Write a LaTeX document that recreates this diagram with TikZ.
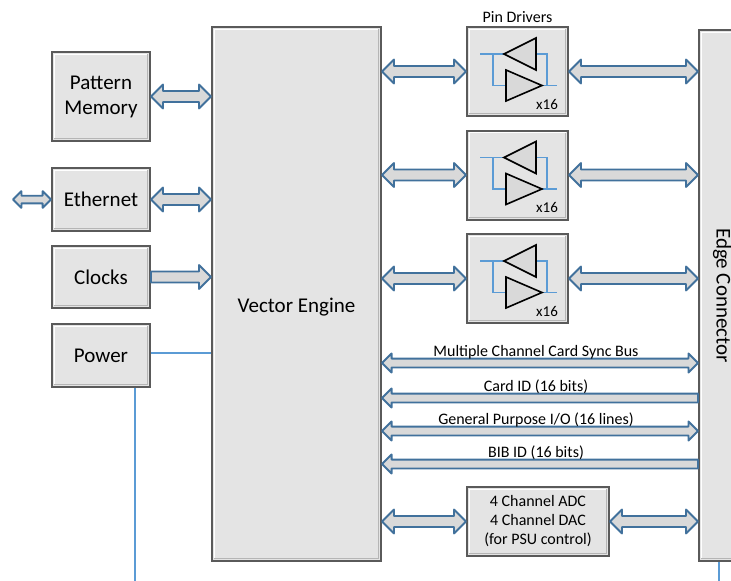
\documentclass[tikz,border=0pt]{standalone}
\usepackage{fontspec}
\setmainfont{Carlito}
\usetikzlibrary{calc}

\definecolor{boxgray}{HTML}{E4E4E4}
\definecolor{boxedge}{HTML}{5A5A5A}
\definecolor{busblue}{HTML}{41719C}
\definecolor{busgray}{HTML}{D9D9D9}
\definecolor{wireblue}{HTML}{5B9BD5}

% fat bus arrows, optional #1 = size factor
\newcommand{\fatboth}[3][1]{%
  \path[fatbus] let \p1=(#2), \p2=(#3) in
    (\x1,\y1) -- (\x1+12pt*#1,\y1+12pt*#1) -- (\x1+12pt*#1,\y1+5.5pt*#1)
    -- (\x2-12pt*#1,\y1+5.5pt*#1) -- (\x2-12pt*#1,\y1+12pt*#1) -- (\x2,\y1)
    -- (\x2-12pt*#1,\y1-12pt*#1) -- (\x2-12pt*#1,\y1-5.5pt*#1)
    -- (\x1+12pt*#1,\y1-5.5pt*#1) -- (\x1+12pt*#1,\y1-12pt*#1) -- cycle;}
\newcommand{\fatright}[3][1]{%
  \path[fatbus] let \p1=(#2), \p2=(#3) in
    (\x1,\y1+5.5pt*#1) -- (\x2-12pt*#1,\y1+5.5pt*#1) -- (\x2-12pt*#1,\y1+12pt*#1)
    -- (\x2,\y1) -- (\x2-12pt*#1,\y1-12pt*#1) -- (\x2-12pt*#1,\y1-5.5pt*#1)
    -- (\x1,\y1-5.5pt*#1) -- cycle;}
\newcommand{\fatleft}[3][1]{%
  \path[fatbus] let \p1=(#2), \p2=(#3) in
    (\x1,\y1) -- (\x1+12pt*#1,\y1+12pt*#1) -- (\x1+12pt*#1,\y1+5.5pt*#1)
    -- (\x2,\y1+5.5pt*#1) -- (\x2,\y1-5.5pt*#1)
    -- (\x1+12pt*#1,\y1-5.5pt*#1) -- (\x1+12pt*#1,\y1-12pt*#1) -- cycle;}

\begin{document}
\begin{tikzpicture}[x=1pt,y=-1pt,
  box/.style={draw=boxedge,fill=boxgray,line width=2pt,text=black,align=center,
    font=\fontsize{21}{25}\selectfont,
    path picture={
      \draw[white,line width=1.2pt]
        ([shift={(2.2pt,2.2pt)}]path picture bounding box.south west)
        |- ([shift={(-2.2pt,-2.2pt)}]path picture bounding box.north east);
      \draw[boxedge!45,line width=1.2pt]
        ([shift={(2.2pt,2.2pt)}]path picture bounding box.south west)
        -| ([shift={(-2.2pt,-2.2pt)}]path picture bounding box.north east);}},
  fatbus/.style={draw=busblue,fill=busgray,line width=1.8pt,line join=round},
  wire/.style={draw=wireblue,line width=1.8pt},
  thinwire/.style={draw=wireblue,line width=1.2pt},
  buslabel/.style={font=\fontsize{16}{19}\selectfont,text=black,inner sep=0pt},
  tri/.style={draw=black,fill=busgray,line width=1.6pt,line join=miter}]
\clip (0,0) rectangle (731,581);

% left column
\node[box,minimum width=98,minimum height=89] (pm) at (101,96.5) {Pattern\\Memory};
\node[box,minimum width=98,minimum height=63] (eth) at (101,199.5) {Ethernet};
\node[box,minimum width=98,minimum height=62] (clk) at (101,277) {Clocks};
\node[box,minimum width=98,minimum height=63] (pwr) at (101,355.5) {Power};

% big blocks
\node[box,minimum width=169,minimum height=534] (ve) at (296.5,294) {\raisebox{-18pt}[0pt][0pt]{Vector Engine}};
\node[box,minimum width=46,minimum height=531] (ec) at (722,295.5) {\rotatebox{-90}{Edge Connector}};

% pin drivers
\foreach \k/\y in {1/71.5,2/175,3/278.5}
  \node[box,minimum width=101,minimum height=89] (pd\k) at (517.5,\y) {};
\node[buslabel,anchor=south] (pdname) at ([yshift=3pt]pd1.north) {Pin Drivers};
\foreach \pd in {pd1,pd2,pd3}{
  \begin{scope}[shift={(\pd.center)}]
    \draw[thinwire] (-37.5,-17.5) -- (-13.5,-17.5);
    \draw[thinwire] (-24.5,-17.5) -- (-24.5,14) -- (-11.5,14);
    \draw[thinwire] (18.5,-17.5) -- (29.5,-17.5) -- (29.5,14);
    \draw[thinwire] (24.5,14) -- (39.5,14);
    \draw[tri] (-13.5,-17.5) -- (18.5,-33.5) -- (18.5,-1.5) -- cycle;
    \draw[tri] (-11.5,-1.5) -- (24.5,14) -- (-11.5,29.5) -- cycle;
    \node[buslabel,font=\fontsize{15}{18}\selectfont] at (29.5,32.5) {x16};
  \end{scope}
}

% ADC / DAC
\node[box,minimum width=142,minimum height=69,font=\fontsize{16}{19}\selectfont] (adc) at (538,521.5)
  {4 Channel ADC\\4 Channel DAC\\(for PSU control)};

% free ends
\coordinate (lan) at (13,199.5);
\coordinate (pwrend) at (135,581);
\coordinate (ecend) at (719,581);
\coordinate (bus1) at (0,363);
\coordinate (bus2) at (0,398);
\coordinate (bus3) at (0,431);
\coordinate (bus4) at (0,464);

% connectors on the left
\fatboth{pm.east}{pm.east -| ve.west}
\fatboth[0.7]{lan}{eth.west}
\fatboth{eth.east}{eth.east -| ve.west}
\fatright{clk.east}{clk.east -| ve.west}
\draw[wire] ([yshift=2.5pt]pwr.east) -- ([yshift=2.5pt]pwr.east -| ve.west);
\draw[wire] (pwrend |- pwr.south) -- (pwrend);
\draw[wire] (ecend |- ec.south) -- (ecend);

% pin driver buses
\fatboth{pd1.west -| ve.east}{pd1.west}
\fatboth{pd1.east}{pd1.east -| ec.west}
\fatboth{pd2.west -| ve.east}{pd2.west}
\fatboth{pd2.east}{pd2.east -| ec.west}
\fatboth{pd3.west -| ve.east}{pd3.west}
\fatboth{pd3.east}{pd3.east -| ec.west}

% card buses
\fatboth[0.8]{ve.east |- bus1}{ec.west |- bus1}
\fatleft[0.8]{ve.east |- bus2}{ec.west |- bus2}
\fatboth[0.8]{ve.east |- bus3}{ec.west |- bus3}
\fatleft[0.8]{ve.east |- bus4}{ec.west |- bus4}
\path (ve.east |- bus1) -- (ec.west |- bus1) node[midway,buslabel,yshift=11pt,xshift=-4pt] {Multiple Channel Card Sync Bus};
\path (ve.east |- bus2) -- (ec.west |- bus2) node[midway,buslabel,yshift=11pt,xshift=-4pt] {Card ID (16 bits)};
\path (ve.east |- bus3) -- (ec.west |- bus3) node[midway,buslabel,yshift=11pt,xshift=-4pt] {General Purpose I/O (16 lines)};
\path (ve.east |- bus4) -- (ec.west |- bus4) node[midway,buslabel,yshift=11pt,xshift=-4pt] {BIB ID (16 bits)};

\fatboth{adc.west -| ve.east}{adc.west}
\fatboth{adc.east}{adc.east -| ec.west}
\end{tikzpicture}
\end{document}
